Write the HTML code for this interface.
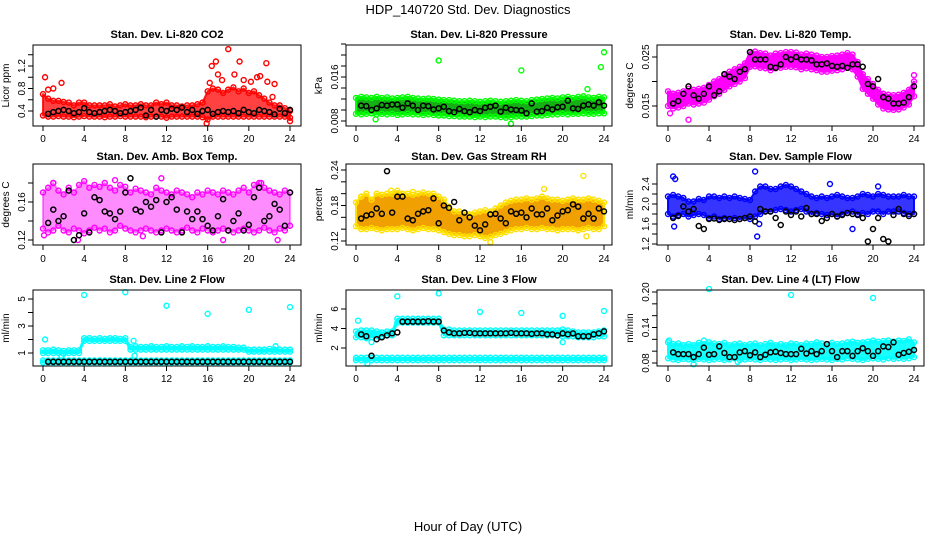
<!DOCTYPE html>
<html><head><meta charset="utf-8">
<style>
body{margin:0;background:#fff;}
svg{display:block;font-family:"Liberation Sans",sans-serif;}
</style></head>
<body>
<svg id="fig" width="936" height="540" viewBox="0 0 936 540" xmlns="http://www.w3.org/2000/svg">
<rect x="0" y="0" width="936" height="540" fill="#fff"/>
<text x="468" y="14" text-anchor="middle" font-size="13">HDP_140720  Std. Dev. Diagnostics</text>
<text x="468" y="531" text-anchor="middle" font-size="13">Hour of Day (UTC)</text>
</svg>
<script>
// ---- data (values at 0.5 h steps; black = checks from 0.5 h) ----
const xTicks = [0,4,8,12,16,20,24];

const co2Lo = [0.32,0.3,0.3,0.31,0.3,0.3,0.29,0.3,0.31,0.3,0.3,0.3,0.29,0.3,0.3,0.31,0.3,0.3,0.3,0.3,0.29,0.3,0.3,0.3,0.28,0.3,0.3,0.3,0.3,0.3,0.3,0.29,0.25,0.3,0.3,0.3,0.3,0.3,0.3,0.3,0.3,0.3,0.3,0.3,0.3,0.3,0.3,0.3,0.28];
const co2Hi = [0.7,0.62,0.58,0.58,0.56,0.55,0.5,0.55,0.55,0.5,0.5,0.5,0.5,0.52,0.48,0.5,0.52,0.5,0.5,0.52,0.5,0.5,0.55,0.52,0.55,0.5,0.5,0.48,0.5,0.5,0.52,0.55,0.75,0.8,0.78,0.72,0.78,0.82,0.75,0.8,0.72,0.75,0.68,0.62,0.55,0.5,0.5,0.45,0.4];
const co2Blk = [0.35,0.38,0.4,0.42,0.4,0.36,0.38,0.45,0.38,0.36,0.38,0.4,0.42,0.4,0.36,0.38,0.4,0.42,0.46,0.32,0.42,0.3,0.42,0.4,0.44,0.42,0.46,0.38,0.42,0.35,0.4,0.42,0.35,0.38,0.4,0.38,0.4,0.36,0.42,0.38,0.36,0.42,0.4,0.38,0.34,0.44,0.36,0.42];
const co2OutT = [0.2,0.5,1,1.8,16.4,16.8,17,18,18.6,19.1,19.5,20.8,21.7,21.8,22.5,22.3,15.9,24,16.2,17.4,20.2,21.1];
const co2OutV = [1.0,0.78,0.8,0.9,1.2,1.28,1.05,1.5,1.05,1.28,0.95,1.0,1.25,0.92,0.88,0.65,0.18,0.22,0.9,0.95,0.92,1.02];

const prsLo = [0.0093,0.0092,0.0093,0.0094,0.0092,0.0093,0.0092,0.0093,0.0091,0.0092,0.0093,0.0092,0.0092,0.0091,0.0092,0.0091,0.0090,0.0090,0.0089,0.0089,0.0088,0.0088,0.0088,0.0087,0.0088,0.0087,0.0088,0.0088,0.0087,0.0086,0.0087,0.0088,0.0088,0.0088,0.0089,0.0090,0.0090,0.0091,0.0092,0.0092,0.0093,0.0092,0.0093,0.0093,0.0094,0.0093,0.0093,0.0094,0.0094];
const prsHi = [0.0122,0.0124,0.0123,0.0122,0.0124,0.0122,0.0123,0.0121,0.0122,0.0123,0.0124,0.0122,0.0121,0.0120,0.0121,0.0120,0.0119,0.0118,0.0118,0.0117,0.0116,0.0116,0.0117,0.0116,0.0115,0.0116,0.0117,0.0116,0.0115,0.0116,0.0117,0.0118,0.0117,0.0116,0.0118,0.0119,0.0120,0.0121,0.0122,0.0121,0.0123,0.0124,0.0122,0.0124,0.0125,0.0123,0.0122,0.0124,0.0123];
const prsBlk = [0.0108,0.0107,0.0100,0.0103,0.0109,0.0108,0.0110,0.0110,0.0104,0.0112,0.0108,0.0100,0.0108,0.0107,0.0101,0.0103,0.0106,0.0098,0.0096,0.0102,0.0098,0.0096,0.0100,0.0098,0.0104,0.0106,0.0108,0.0097,0.0104,0.0101,0.0100,0.0099,0.0094,0.0112,0.0097,0.0098,0.0104,0.0101,0.0105,0.0106,0.0117,0.0103,0.0102,0.0108,0.0110,0.0108,0.0114,0.0108];
const prsOutT = [8,16,22.4,23.7,24,15,1.9];
const prsOutV = [0.019,0.0172,0.0138,0.0178,0.0205,0.0075,0.0083];

const tmpLo = [.015,.0145,.0147,.015,.0155,.0153,.0155,.0157,.0163,.017,.0175,.0183,.019,.0195,.02,.0207,.023,.0231,.0228,.0227,.0223,.0227,.0228,.023,.023,.0229,.0225,.0227,.0225,.0223,.022,.022,.0222,.0223,.0225,.0228,.0225,.021,.0185,.0175,.0165,.0153,.0145,.0143,.0142,.0143,.0147,.0153,.017];
const tmpHi = [.018,.0175,.0177,.018,.0185,.0183,.0185,.0187,.0193,.02,.0205,.0213,.022,.0225,.023,.0237,.026,.0261,.0258,.0257,.0253,.0257,.0258,.026,.026,.0259,.0255,.0257,.0255,.0253,.025,.025,.0252,.0253,.0255,.0258,.0255,.024,.0215,.0205,.0195,.0183,.0175,.0173,.0172,.0173,.0177,.0183,.02];
const tmpBlk = [.0155,.016,.0175,.019,.0172,.0165,.0175,.019,.0172,.018,.0215,.021,.0205,.022,.0225,.026,.0245,.0245,.0245,.023,.0228,.0235,.025,.0245,.025,.0245,.0245,.0243,.0235,.0235,.0237,.0232,.023,.0232,.0228,.0235,.0235,.023,.0195,.019,.0205,.0168,.0165,.0155,.0155,.0157,.0168,.019];
const tmpOutT = [0.2,2,24,23.3];
const tmpOutV = [.0135,.0122,.0213,.0155];

const ambLo = [0.132,0.128,0.13,0.135,0.13,0.128,0.132,0.13,0.127,0.13,0.133,0.13,0.132,0.128,0.13,0.135,0.132,0.13,0.128,0.13,0.132,0.13,0.128,0.13,0.132,0.13,0.128,0.13,0.133,0.13,0.128,0.132,0.13,0.128,0.13,0.132,0.13,0.128,0.13,0.132,0.13,0.128,0.13,0.133,0.13,0.128,0.132,0.13,0.135];
const ambHi = [0.17,0.175,0.18,0.172,0.168,0.175,0.17,0.178,0.182,0.175,0.178,0.176,0.18,0.175,0.172,0.178,0.176,0.17,0.174,0.172,0.17,0.168,0.175,0.172,0.17,0.168,0.172,0.17,0.168,0.165,0.17,0.168,0.172,0.17,0.168,0.172,0.17,0.168,0.172,0.175,0.17,0.178,0.18,0.175,0.172,0.17,0.168,0.172,0.17];
const ambBlk = [0.138,0.152,0.14,0.145,0.172,0.12,0.125,0.148,0.128,0.165,0.162,0.15,0.148,0.142,0.15,0.17,0.185,0.152,0.15,0.16,0.155,0.162,0.128,0.16,0.165,0.152,0.128,0.15,0.142,0.15,0.142,0.135,0.13,0.145,0.163,0.13,0.14,0.148,0.13,0.136,0.165,0.175,0.14,0.145,0.158,0.152,0.135,0.17];
const ambOutT = [1,11.5,22.8,17.5,0.1,3.4,7,9.7,21.2];
const ambOutV = [0.18,0.185,0.12,0.12,0.125,0.12,0.183,0.124,0.18];

const rhLo = [.145,.14,.14,.142,.14,.138,.14,.14,.14,.142,.14,.138,.14,.142,.14,.14,.138,.135,.132,.13,.13,.128,.128,.13,.128,.125,.127,.13,.132,.135,.138,.14,.14,.142,.14,.14,.142,.14,.14,.138,.14,.14,.14,.138,.14,.142,.14,.14,.145];
const rhHi = [.185,.195,.2,.19,.2,.198,.2,.2,.205,.2,.2,.198,.2,.202,.2,.2,.195,.19,.178,.17,.17,.168,.165,.168,.17,.172,.17,.175,.18,.185,.188,.19,.19,.192,.19,.192,.195,.192,.19,.19,.188,.19,.192,.19,.19,.192,.19,.188,.185];
const rhBlk = [.158,.163,.165,.175,.166,.238,.168,.195,.195,.158,.155,.166,.17,.172,.192,.15,.18,.176,.186,.155,.168,.16,.146,.138,.148,.165,.166,.158,.15,.17,.166,.168,.16,.175,.165,.165,.175,.155,.163,.17,.172,.182,.178,.158,.166,.158,.175,.17];
const rhOutT = [0.5,3.4,22,18.2,22.3,13,5.5];
const rhOutV = [0.195,0.205,0.23,0.208,0.128,0.118,0.203];

const sfLo = [1.8,1.75,1.78,1.8,1.75,1.78,1.8,1.78,1.72,1.75,1.7,1.72,1.7,1.72,1.7,1.72,1.7,1.75,1.8,1.85,1.85,1.88,1.9,1.88,1.85,1.88,1.9,1.85,1.8,1.82,1.8,1.78,1.8,1.75,1.8,1.82,1.85,1.8,1.82,1.8,1.85,1.85,1.8,1.85,1.85,1.85,1.82,1.8,1.8];
const sfHi = [2.15,2.18,2.15,2.12,2.05,2.05,2.1,2.08,2.15,2.15,2.12,2.15,2.12,2.15,2.12,2.1,2.08,2.25,2.35,2.35,2.3,2.3,2.35,2.38,2.35,2.3,2.25,2.2,2.15,2.12,2.15,2.12,2.15,2.18,2.15,2.12,2.12,2.15,2.2,2.18,2.15,2.2,2.18,2.15,2.15,2.15,2.18,2.15,2.15];
const sfBlk = [1.72,1.76,1.95,1.85,1.9,1.56,1.5,1.7,1.71,1.68,1.7,1.7,1.68,1.7,1.72,1.75,1.65,1.9,1.85,1.85,1.72,1.58,1.85,1.78,1.85,1.75,1.92,1.8,1.8,1.66,1.72,1.8,1.75,1.78,1.82,1.8,1.78,1.72,1.25,1.5,1.72,1.3,1.25,1.78,1.9,1.8,1.76,1.8];
const sfOutT = [0.5,0.7,8.5,15.8,20.5,0.6,8.7,18,8.9];
const sfOutV = [2.55,2.5,2.65,2.4,2.35,1.55,1.35,1.5,1.6];

const l2Lo = [1.0,1.0,1.0,1.0,0.95,1.0,1.0,1.0,1.9,1.9,1.9,1.9,1.9,1.9,1.9,1.9,1.9,1.25,1.25,1.25,1.25,1.25,1.25,1.25,1.25,1.25,1.25,1.25,1.25,1.25,1.25,1.25,1.25,1.25,1.25,1.25,1.25,1.25,1.25,1.25,1.1,1.1,1.1,1.1,1.1,1.1,1.1,1.1,1.1];
const l2Hi = [1.2,1.2,1.25,1.2,1.15,1.2,1.2,1.2,2.1,2.1,2.05,2.1,2.05,2.1,2.1,2.05,2.1,1.45,1.5,1.45,1.45,1.5,1.45,1.45,1.5,1.45,1.45,1.5,1.45,1.5,1.45,1.45,1.5,1.45,1.45,1.5,1.45,1.45,1.4,1.4,1.25,1.25,1.25,1.25,1.3,1.25,1.25,1.25,1.25];
const l2BotLo = [0.3,0.3,0.3,0.3,0.3,0.3,0.3,0.3,0.3,0.3,0.3,0.3,0.3,0.3,0.3,0.3,0.3,0.3,0.3,0.3,0.3,0.3,0.3,0.3,0.3,0.3,0.3,0.3,0.3,0.3,0.3,0.3,0.3,0.3,0.3,0.3,0.3,0.3,0.3,0.3,0.3,0.3,0.3,0.3,0.3,0.3,0.3,0.3,0.3];
const l2BotHi = [0.45,0.45,0.45,0.45,0.45,0.45,0.45,0.45,0.45,0.45,0.45,0.45,0.45,0.45,0.45,0.45,0.45,0.45,0.45,0.45,0.45,0.45,0.45,0.45,0.45,0.45,0.45,0.45,0.45,0.45,0.45,0.45,0.45,0.45,0.45,0.45,0.45,0.45,0.45,0.45,0.45,0.45,0.45,0.45,0.45,0.45,0.45,0.45,0.45];
const l2Blk = [0.35,0.35,0.35,0.35,0.35,0.35,0.35,0.35,0.35,0.35,0.35,0.35,0.35,0.35,0.35,0.35,0.35,0.35,0.35,0.35,0.35,0.35,0.35,0.35,0.35,0.35,0.35,0.35,0.35,0.35,0.35,0.35,0.35,0.35,0.35,0.35,0.35,0.35,0.35,0.35,0.35,0.35,0.35,0.35,0.35,0.35,0.35,0.35];
const l2OutT = [0.2,4,8,12,16,20,24,8.8,8.9,1.8,22.6];
const l2OutV = [2.0,5.3,5.5,4.5,3.9,4.2,4.4,1.9,0.8,0.8,1.5];

const l3Lo = [3.1,3.1,3.0,3.1,3.2,3.2,3.3,3.3,4.6,4.6,4.6,4.6,4.6,4.6,4.6,4.6,4.6,3.3,3.3,3.3,3.3,3.3,3.3,3.3,3.3,3.3,3.3,3.3,3.3,3.3,3.3,3.3,3.3,3.3,3.3,3.3,3.3,3.3,3.3,3.3,3.2,3.2,3.2,3.1,3.1,3.1,3.1,3.2,3.2];
const l3Hi = [3.7,3.8,3.8,3.8,3.7,3.6,3.7,3.7,5.0,5.0,5.0,5.0,5.0,5.0,5.0,5.0,5.0,3.9,3.9,3.8,3.8,3.8,3.8,3.8,3.8,3.8,3.8,3.8,3.8,3.8,3.8,3.8,3.8,3.8,3.8,3.8,3.8,3.8,3.8,3.8,3.9,3.8,3.7,3.6,3.6,3.6,3.6,3.7,3.8];
const l3BotLo = [0.75,0.75,0.75,0.75,0.75,0.75,0.75,0.75,0.75,0.75,0.75,0.75,0.75,0.75,0.75,0.75,0.75,0.75,0.75,0.75,0.75,0.75,0.75,0.75,0.75,0.75,0.75,0.75,0.75,0.75,0.75,0.75,0.75,0.75,0.75,0.75,0.75,0.75,0.75,0.75,0.75,0.75,0.75,0.75,0.75,0.75,0.75,0.75,0.75];
const l3BotHi = [1.0,1.0,1.0,1.0,1.0,1.0,1.0,1.0,1.0,1.0,1.0,1.0,1.0,1.0,1.0,1.0,1.0,1.0,1.0,1.0,1.0,1.0,1.0,1.0,1.0,1.0,1.0,1.0,1.0,1.0,1.0,1.0,1.0,1.0,1.0,1.0,1.0,1.0,1.0,1.0,1.0,1.0,1.0,1.0,1.0,1.0,1.0,1.0,1.0];
const l3Blk = [3.4,3.2,1.2,2.9,3.1,3.3,3.5,3.6,4.7,4.7,4.7,4.7,4.7,4.75,4.7,4.7,3.8,3.6,3.5,3.5,3.55,3.55,3.5,3.5,3.5,3.5,3.5,3.5,3.5,3.55,3.5,3.5,3.5,3.45,3.5,3.5,3.4,3.4,3.3,3.5,3.4,3.5,3.2,3.2,3.2,3.4,3.5,3.7];
const l3OutT = [0.2,4,8,12,16,20,24,1.5,20,1.1];
const l3OutV = [4.8,7.3,7.6,5.7,5.6,5.3,5.8,2.6,2.6,0.4];

const l4Lo = [0.088,0.086,0.085,0.087,0.086,0.085,0.087,0.086,0.085,0.086,0.087,0.085,0.086,0.088,0.085,0.086,0.087,0.086,0.085,0.087,0.086,0.085,0.086,0.087,0.085,0.086,0.087,0.086,0.085,0.086,0.087,0.086,0.085,0.087,0.086,0.088,0.087,0.086,0.085,0.087,0.088,0.087,0.086,0.088,0.087,0.088,0.087,0.088,0.09];
const l4Hi = [0.115,0.112,0.113,0.11,0.112,0.11,0.114,0.112,0.115,0.113,0.112,0.114,0.11,0.112,0.113,0.11,0.112,0.113,0.11,0.112,0.114,0.11,0.112,0.11,0.113,0.112,0.11,0.113,0.112,0.115,0.113,0.112,0.114,0.112,0.113,0.115,0.116,0.114,0.115,0.116,0.118,0.116,0.117,0.118,0.116,0.118,0.117,0.12,0.115];
const l4Blk = [0.098,0.095,0.095,0.095,0.09,0.095,0.106,0.094,0.095,0.108,0.097,0.09,0.09,0.098,0.1,0.093,0.098,0.09,0.094,0.098,0.099,0.097,0.095,0.095,0.095,0.104,0.096,0.1,0.095,0.1,0.112,0.1,0.09,0.1,0.1,0.092,0.1,0.105,0.1,0.092,0.1,0.108,0.107,0.115,0.094,0.097,0.099,0.102];
const l4OutT = [4,12,20,2.5,0.1,3.5,6.8];
const l4OutV = [0.205,0.195,0.19,0.078,0.118,0.118,0.082];

// ---- layout ----
const cols = [{l:33,r:301,x0:43,x24:290},{l:346,r:612,x0:356,x24:604},{l:657,r:924,x0:668,x24:914}];
const rows = [{t:45,b:126,ty:38,xl:142},{t:164,b:245,ty:160,xl:262},{t:290,b:366,ty:283,xl:382}];

const panels = [
 {name:'co2',title:'Stan. Dev. Li-820 CO2',ylab:'Licor ppm',c:0,r:0,a:[0.4,111],b:[1.2,66],ticks:[0.4,0.6,0.8,1.0,1.2,1.4],labs:['0.4','0.8','1.2'],col:'#ff0000',band:'#ff2020',op:0.85,lo:co2Lo,hi:co2Hi,blk:co2Blk,ot:co2OutT,ov:co2OutV},
 {name:'pressure',title:'Stan. Dev. Li-820 Pressure',ylab:'kPa',c:1,r:0,a:[0.008,121],b:[0.016,77],ticks:[0.008,0.010,0.012,0.014,0.016,0.018,0.020,0.022],labs:['0.008','0.016'],col:'#00ff00',band:'#14b014',op:1,lo:prsLo,hi:prsHi,blk:prsBlk,ot:prsOutT,ov:prsOutV},
 {name:'li820-temp',title:'Stan. Dev. Li-820 Temp.',ylab:'degrees C',c:2,r:0,a:[0.015,106],b:[0.025,57],ticks:[0.015,0.020,0.025],labs:['0.015','0.025'],col:'#ff00ff',band:'#ff00ff',op:1,lo:tmpLo,hi:tmpHi,blk:tmpBlk,ot:tmpOutT,ov:tmpOutV},
 {name:'amb-box-temp',title:'Stan. Dev. Amb. Box Temp.',ylab:'degrees C',c:0,r:1,a:[0.12,240],b:[0.16,202],ticks:[0.12,0.14,0.16,0.18],labs:['0.12','0.16'],col:'#ff00ff',band:'#ff00ff',op:0.45,lo:ambLo,hi:ambHi,blk:ambBlk,ot:ambOutT,ov:ambOutV},
 {name:'gas-stream-rh',title:'Stan. Dev. Gas Stream RH',ylab:'percent',c:1,r:1,a:[0.12,241],b:[0.24,170],ticks:[0.12,0.14,0.16,0.18,0.20,0.22,0.24],labs:['0.12','0.18','0.24'],col:'#ffe000',band:'#f0a000',op:1,lo:rhLo,hi:rhHi,blk:rhBlk,ot:rhOutT,ov:rhOutV},
 {name:'sample-flow',title:'Stan. Dev. Sample Flow',ylab:'ml/min',c:2,r:1,a:[1.2,244],b:[2.4,184],ticks:[1.2,1.4,1.6,1.8,2.0,2.2,2.4],labs:['1.2','1.6','2.0','2.4'],col:'#0000ff',band:'#2a2aff',op:0.95,lo:sfLo,hi:sfHi,blk:sfBlk,ot:sfOutT,ov:sfOutV},
 {name:'line2-flow',title:'Stan. Dev. Line 2 Flow',ylab:'ml/min',c:0,r:2,a:[1,353],b:[5,299],ticks:[1,2,3,4,5],labs:['1','3','5'],col:'#00ffff',band:'#00ffff',op:1,lo:l2Lo,hi:l2Hi,lo2:l2BotLo,hi2:l2BotHi,blk:l2Blk,ot:l2OutT,ov:l2OutV},
 {name:'line3-flow',title:'Stan. Dev. Line 3 Flow',ylab:'ml/min',c:1,r:2,a:[2,348],b:[6,309],ticks:[2,4,6],labs:['2','4','6'],col:'#00ffff',band:'#00ffff',op:1,lo:l3Lo,hi:l3Hi,lo2:l3BotLo,hi2:l3BotHi,blk:l3Blk,ot:l3OutT,ov:l3OutV},
 {name:'line4-flow',title:'Stan. Dev. Line 4 (LT) Flow',ylab:'ml/min',c:2,r:2,a:[0.08,363],b:[0.20,292],ticks:[0.08,0.10,0.12,0.14,0.16,0.18,0.20],labs:['0.08','0.14','0.20'],col:'#00ffff',band:'#00ffff',op:0.9,lo:l4Lo,hi:l4Hi,blk:l4Blk,ot:l4OutT,ov:l4OutV}
];

const NS = 'http://www.w3.org/2000/svg';
const svg = document.getElementById('fig');
function mk(tag, attrs, parent){
  const e = document.createElementNS(NS, tag);
  for (const k in attrs) e.setAttribute(k, attrs[k]);
  (parent||svg).appendChild(e);
  return e;
}

panels.forEach(p => {
  const C = cols[p.c], R = rows[p.r];
  const xs = t => C.x0 + t*(C.x24 - C.x0)/24;
  const ys = v => p.a[1] + (v - p.a[0])*(p.b[1]-p.a[1])/(p.b[0]-p.a[0]);
  const g = mk('g', {});
  
  

  const ti = mk('text', {x:(C.l+C.r)/2, y:R.ty, 'text-anchor':'middle', 'font-size':'11', 'font-weight':'bold'}, g);
  ti.textContent = p.title;
  
  

  const yl = mk('text', {x:0, y:0, 'text-anchor':'middle', 'font-size':'10', transform:`translate(${C.l-24},${(R.t+R.b)/2}) rotate(-90)`}, g);
  yl.textContent = p.ylab;
  
  

  const ser = mk('g', {}, g);
  
  
  function band(lo, hi){
    let pts = [];
    for (let i=0;i<hi.length;i++) pts.push(xs(i*0.5)+','+ys(hi[i]));
    for (let i=lo.length-1;i>=0;i--) pts.push(xs(i*0.5)+','+ys(lo[i]));
    const pg = mk('polygon', {points:pts.join(' '), fill:p.band, 'fill-opacity':p.op, stroke:p.col, 'stroke-width':'2', 'stroke-linejoin':'round', 'stroke-opacity':p.op}, ser);
    
    
    [lo, hi].forEach(arr => arr.forEach((v,i) => {
      const c = mk('circle', {cx:xs(i*0.5), cy:ys(v), r:2.5, fill:'none', stroke:p.col, 'stroke-width':1.4}, ser);
      
      
    }));
  }
  band(p.lo, p.hi);
  if (p.lo2) band(p.lo2, p.hi2);
  p.ot.forEach((t,i) => {
    const c = mk('circle', {cx:xs(t), cy:ys(p.ov[i]), r:2.5, fill:'none', stroke:p.col, 'stroke-width':1.4}, ser);
    
    
  });
  p.blk.forEach((v,i) => {
    const c = mk('circle', {cx:xs((i+1)*0.5), cy:ys(v), r:2.5, fill:'none', stroke:'#000', 'stroke-width':1.5}, ser);
    
    
  });

  const fr = mk('rect', {x:C.l, y:R.t, width:C.r-C.l, height:R.b-R.t, fill:'none', stroke:'#000', 'stroke-width':1}, g);
  
  

  const xa = mk('g', {}, g);
  
  
  xTicks.forEach(t => {
    mk('line', {x1:xs(t), x2:xs(t), y1:R.b, y2:R.b+5, stroke:'#000'}, xa);
    const tx = mk('text', {x:xs(t), y:R.xl, 'text-anchor':'middle', 'font-size':'10'}, xa);
    tx.textContent = String(t);
    
    
  });
  const ya = mk('g', {}, g);
  
  
  p.ticks.forEach(v => mk('line', {x1:C.l-5, x2:C.l, y1:ys(v), y2:ys(v), stroke:'#000'}, ya));
  p.labs.forEach(s => {
    const tx = mk('text', {x:0, y:0, 'text-anchor':'middle', 'font-size':'10', transform:`translate(${C.l-8},${ys(parseFloat(s))}) rotate(-90)`}, ya);
    tx.textContent = s;
    
    
  });
});
</script>
</body></html>
